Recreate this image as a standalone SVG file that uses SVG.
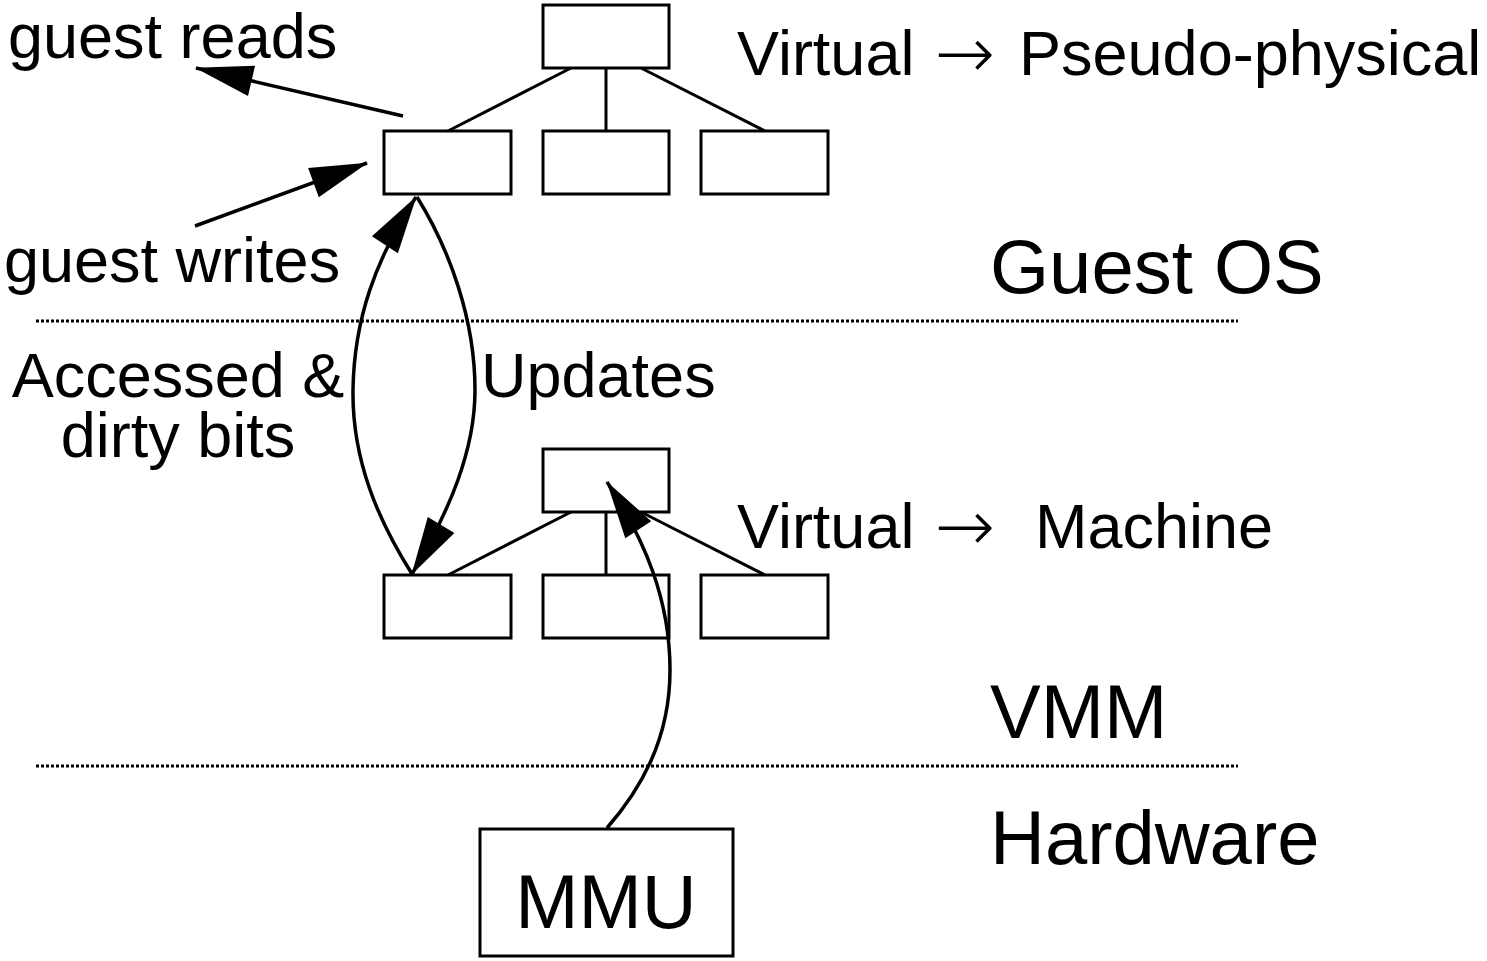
<svg xmlns="http://www.w3.org/2000/svg" width="1487" height="961" viewBox="0 0 1487 961">
  <style>
    .box { fill: #fff; stroke: #000; stroke-width: 3; }
    .edge { fill: none; stroke: #000; stroke-width: 3; }
    .arrow { fill: none; stroke: #000; stroke-width: 3.5; marker-end: url(#head); }
    .sep { fill: none; stroke: #000; stroke-width: 3; stroke-dasharray: 3 2; }
    .lbl { font-family: "Liberation Sans", Arial, Helvetica, sans-serif; font-size: 63px; fill: #000; }
    .big { font-family: "Liberation Sans", Arial, Helvetica, sans-serif; font-size: 76px; fill: #000; }
    .to { font-family: "DejaVu Sans", sans-serif; font-weight: 200; font-size: 72px; fill: #000; }
  </style>
  <defs>
    <marker id="head" viewBox="-60 -17 62 34" refX="0" refY="0" markerWidth="62" markerHeight="34" markerUnits="userSpaceOnUse" orient="auto">
      <path d="M1,0 L-57,-15.5 L-57,15.5 Z" fill="#000"/>
    </marker>
  </defs>

  <rect width="1487" height="961" fill="#fff"/>

  <!-- layer separators -->
  <g id="separators">
    <line class="sep" x1="36" y1="321" x2="1238" y2="321"/>
    <line class="sep" x1="36" y1="766" x2="1238" y2="766"/>
  </g>

  <!-- tree edges -->
  <g id="tree-edges">
    <line class="edge" x1="571" y1="68" x2="448" y2="131"/>
    <line class="edge" x1="606" y1="68" x2="606" y2="131"/>
    <line class="edge" x1="641" y1="68" x2="765" y2="131"/>
    <line class="edge" x1="571" y1="512" x2="448" y2="575"/>
    <line class="edge" x1="606" y1="512" x2="606" y2="575"/>
    <line class="edge" x1="641" y1="512" x2="765" y2="575"/>
  </g>

  <!-- guest page table -->
  <g id="guest-root"><rect class="box" x="543" y="5" width="126" height="63"/></g>
  <g id="guest-child-1"><rect class="box" x="384" y="131" width="127" height="63"/></g>
  <g id="guest-child-2"><rect class="box" x="543" y="131" width="126" height="63"/></g>
  <g id="guest-child-3"><rect class="box" x="701" y="131" width="127" height="63"/></g>

  <!-- shadow page table -->
  <g id="shadow-root"><rect class="box" x="543" y="449" width="126" height="63"/></g>
  <g id="shadow-child-1"><rect class="box" x="384" y="575" width="127" height="63"/></g>
  <g id="shadow-child-2"><rect class="box" x="543" y="575" width="126" height="63"/></g>
  <g id="shadow-child-3"><rect class="box" x="701" y="575" width="127" height="63"/></g>

  <!-- hardware -->
  <g id="mmu">
    <rect class="box" x="480" y="829" width="253" height="127"/>
    <text class="big" x="606" y="928" text-anchor="middle">MMU</text>
  </g>

  <!-- access and update arrows, drawn over the tables -->
  <g id="connectors">
    <path class="arrow" d="M403,116 L196,68"/>
    <path class="arrow" d="M195,226 L367,163"/>
    <path class="arrow" d="M412,574 C378,520 352,460 353,390 C354,320 375,260 416,197"/>
    <path class="arrow" d="M417,197 C450,250 475,320 475,390 C475,450 450,510 412,574"/>
    <path class="arrow" d="M607,828 C640,790 670,740 670,670 C670,600 645,540 607,482"/>
  </g>

  <!-- labels -->
  <g id="labels">
    <text class="lbl" x="8" y="58">guest reads</text>
    <text class="lbl" x="4" y="282">guest writes</text>
    <text class="lbl" x="178" y="397" text-anchor="middle">Accessed &amp;</text>
    <text class="lbl" x="178" y="457" text-anchor="middle">dirty bits</text>
    <text class="lbl" x="481" y="397">Updates</text>
    <text class="lbl" x="737" y="75">Virtual</text>
    <text class="to" x="965" y="78" text-anchor="middle">→</text>
    <text class="lbl" x="1019" y="75">Pseudo-physical</text>
    <text class="lbl" x="737" y="548">Virtual</text>
    <text class="to" x="965" y="551" text-anchor="middle">→</text>
    <text class="lbl" x="1035" y="548">Machine</text>
    <text class="big" x="990" y="293">Guest OS</text>
    <text class="big" x="990" y="738">VMM</text>
    <text class="big" x="990" y="864">Hardware</text>
  </g>
</svg>
